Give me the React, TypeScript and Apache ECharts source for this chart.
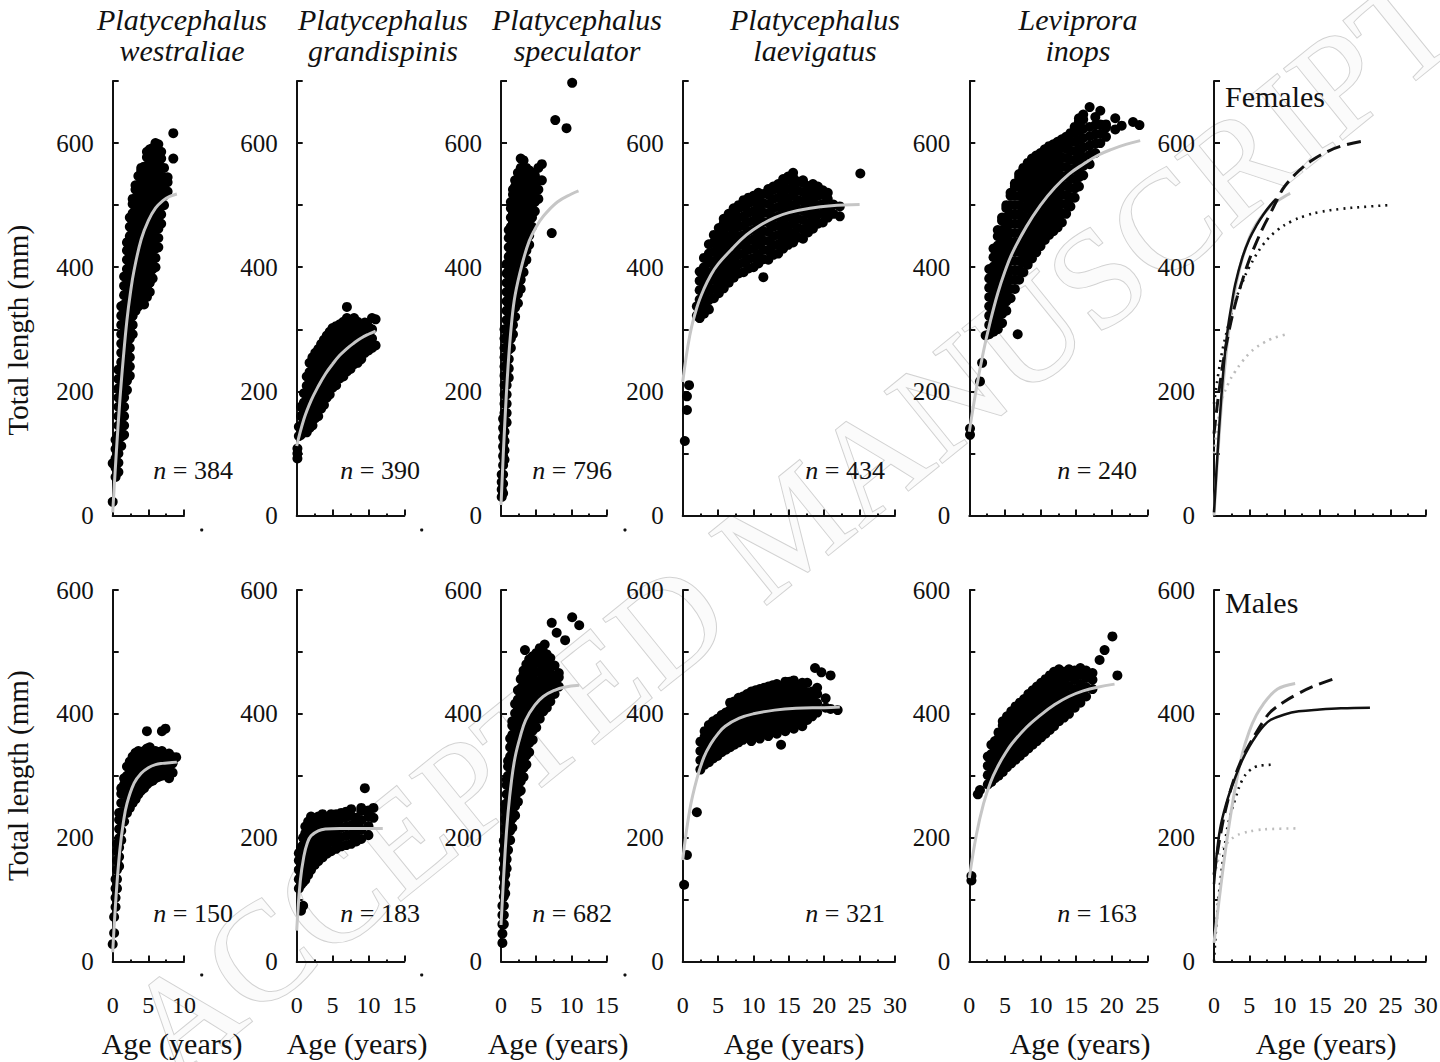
import React, { useEffect, useRef } from "react";
import * as echarts from "echarts";

const FONT = "'Liberation Serif', 'Times New Roman', Times, serif";
const INK = "#111111";
const CURVE_GRAY = "#c6c6c6";

// ---------- scatter rows: [age, ...lengths] ----------
const westraliaeF: number[][] = [
  [0.0, 22, 84],
  [0.4, 62, 77, 92, 107, 122],
  [0.8, 70, 85, 100, 115, 130, 145, 160, 175, 190, 205, 220, 235],
  [1.2, 112, 127, 142, 157, 172, 187, 202, 217, 232, 247, 262, 277, 292, 307, 322, 337],
  [1.6, 130, 145, 160, 175, 190, 205, 220, 235, 250, 265, 280, 295, 310, 325, 340, 355, 370, 385],
  [2.0, 202, 217, 232, 247, 262, 277, 292, 307, 322, 337, 352, 367, 382, 397, 412, 427, 440],
  [2.4, 225, 240, 255, 270, 285, 300, 315, 330, 345, 360, 375, 390, 405, 420, 435, 450, 465, 480],
  [2.8, 292, 307, 322, 337, 352, 367, 382, 397, 412, 427, 442, 457, 472, 487, 502, 510],
  [3.2, 330, 345, 360, 375, 390, 405, 420, 435, 450, 465, 480, 495, 510, 525, 532],
  [3.6, 337, 352, 367, 382, 397, 412, 427, 442, 457, 472, 487, 502, 517, 532, 547],
  [4.0, 345, 360, 375, 390, 405, 420, 435, 450, 465, 480, 495, 510, 525, 540, 555, 560],
  [4.4, 340, 355, 370, 385, 400, 415, 430, 445, 460, 475, 490, 505, 520, 535, 550, 562],
  [4.8, 352, 367, 382, 397, 412, 427, 442, 457, 472, 487, 502, 517, 532, 547, 562, 577, 586],
  [5.2, 360, 375, 390, 405, 420, 435, 450, 465, 480, 495, 510, 525, 540, 555, 570, 585, 590],
  [5.6, 382, 397, 412, 427, 442, 457, 472, 487, 502, 517, 532, 547, 562, 577, 592],
  [6.0, 400, 415, 430, 445, 460, 475, 490, 505, 520, 535, 550, 565, 580, 595, 600],
  [6.4, 432, 447, 462, 477, 492, 507, 522, 537, 552, 567, 582, 598],
  [6.8, 470, 485, 500, 515, 530, 545, 560, 575, 586],
  [7.2, 500, 515, 530, 545, 560],
  [7.7, 522, 537, 545],
  [8.5, 575, 616],
];
const grandispinisF: number[][] = [
  [0.1, 92, 100, 108],
  [0.3, 128, 143],
  [0.6, 130, 145, 160, 175],
  [1.0, 137, 152, 167, 182, 197],
  [1.4, 134, 149, 164, 179, 194, 209, 224],
  [1.8, 141, 156, 171, 186, 201, 216, 231, 246],
  [2.2, 145, 160, 175, 190, 205, 220, 235, 250, 255],
  [2.6, 157, 172, 187, 202, 217, 232, 247, 262],
  [3.0, 160, 175, 190, 205, 220, 235, 250, 265, 268],
  [3.4, 172, 187, 202, 217, 232, 247, 262, 276],
  [3.8, 178, 193, 208, 223, 238, 253, 268, 283],
  [4.2, 190, 205, 220, 235, 250, 265, 280, 290],
  [4.6, 195, 210, 225, 240, 255, 270, 285, 296],
  [5.0, 206, 221, 236, 251, 266, 281, 296, 302],
  [5.5, 210, 225, 240, 255, 270, 285, 300, 305],
  [6.0, 221, 236, 251, 266, 281, 296, 308],
  [6.5, 224, 239, 254, 269, 284, 299, 312],
  [7.0, 232, 247, 262, 277, 292, 307, 318, 336],
  [7.5, 236, 251, 266, 281, 296, 311],
  [8.0, 244, 259, 274, 289, 304, 318],
  [8.5, 246, 261, 276, 291, 306, 312],
  [9.0, 252, 264, 279, 294, 304],
  [9.5, 262, 277, 292, 311],
  [10.0, 266, 281, 296, 304],
  [10.5, 270, 285, 300, 318],
  [11.0, 274, 316],
];
const speculatorF: number[][] = [
  [0.1, 30, 42, 54, 66],
  [0.3, 36, 51, 66, 81, 96, 111, 126, 141, 156],
  [0.5, 90, 105, 120, 135, 150, 165, 180, 195, 210, 225, 240, 255, 270, 285, 300],
  [0.8, 150, 165, 180, 195, 210, 225, 240, 255, 270, 285, 300, 315, 330, 345, 360, 375, 390, 405],
  [1.1, 222, 237, 252, 267, 282, 297, 312, 327, 342, 357, 372, 387, 402, 417, 432, 447, 460],
  [1.4, 270, 285, 300, 315, 330, 345, 360, 375, 390, 405, 420, 435, 450, 465, 480, 495, 505],
  [1.7, 292, 307, 322, 337, 352, 367, 382, 397, 412, 427, 442, 457, 472, 487, 502, 517, 525],
  [2.0, 320, 335, 350, 365, 380, 395, 410, 425, 440, 455, 470, 485, 500, 515, 530, 540],
  [2.4, 342, 357, 372, 387, 402, 417, 432, 447, 462, 477, 492, 507, 522, 537, 552],
  [2.8, 365, 380, 395, 410, 425, 440, 455, 470, 485, 500, 515, 530, 545, 560, 575],
  [3.2, 392, 407, 422, 437, 452, 467, 482, 497, 512, 527, 542, 557, 572],
  [3.6, 412, 427, 442, 457, 472, 487, 502, 517, 532, 547, 560],
  [4.0, 436, 451, 466, 481, 496, 511, 526, 541, 556],
  [4.4, 465, 480, 495, 510, 525, 540, 552],
  [4.8, 490, 505, 520, 535, 548],
  [5.3, 510, 525, 540, 560],
  [5.8, 540, 566],
  [7.2, 455],
  [7.7, 637],
  [9.3, 624],
  [10.1, 697],
];
const laevigatusF: number[][] = [
  [0.3, 120],
  [0.6, 170, 192],
  [0.9, 210],
  [2.0, 322, 337],
  [2.4, 318, 333, 348, 363, 378, 393],
  [3.0, 325, 340, 355, 370, 385, 400, 415],
  [3.7, 332, 347, 362, 377, 392, 407, 422, 437],
  [4.4, 350, 365, 380, 395, 410, 425, 440, 452],
  [5.1, 358, 373, 388, 403, 418, 433, 448, 463],
  [5.8, 366, 381, 396, 411, 426, 441, 456, 471, 478],
  [6.5, 375, 390, 405, 420, 435, 450, 465, 480, 486],
  [7.2, 383, 398, 413, 428, 443, 458, 473, 488, 495],
  [7.9, 390, 405, 420, 435, 450, 465, 480, 495, 500],
  [8.6, 392, 407, 422, 437, 452, 467, 482, 497, 508],
  [9.3, 398, 413, 428, 443, 458, 473, 488, 503, 512],
  [10.0, 400, 415, 430, 445, 460, 475, 490, 505, 515],
  [10.7, 406, 421, 436, 451, 466, 481, 496, 511, 520],
  [11.4, 384, 413, 428, 443, 458, 473, 488, 503, 518],
  [12.1, 412, 427, 442, 457, 472, 487, 502, 517, 526],
  [12.8, 420, 435, 450, 465, 480, 495, 510, 525, 530],
  [13.5, 422, 437, 452, 467, 482, 497, 512, 527, 534],
  [14.2, 430, 445, 460, 475, 490, 505, 520, 535, 542],
  [14.9, 436, 451, 466, 481, 496, 511, 526, 541, 546],
  [15.6, 440, 455, 470, 485, 500, 515, 530, 545, 552],
  [16.3, 448, 463, 478, 493, 508, 523, 538],
  [17.0, 446, 461, 476, 491, 506, 521, 536, 540],
  [17.7, 456, 471, 486, 501, 516, 531],
  [18.4, 462, 477, 492, 507, 522, 534],
  [19.1, 470, 485, 500, 515, 530],
  [19.8, 472, 487, 502, 517, 524],
  [20.5, 480, 495, 510, 520],
  [21.3, 486, 501],
  [22.2, 482, 498],
  [25.1, 551],
];
const inopsF: number[][] = [
  [0.1, 130, 140],
  [1.5, 216],
  [1.8, 246],
  [2.3, 290],
  [2.8, 292, 307, 322, 337, 352, 367, 382, 397],
  [3.4, 296, 311, 326, 341, 356, 371, 386, 401, 416, 430],
  [4.0, 300, 315, 330, 345, 360, 375, 390, 405, 420, 435, 450, 460],
  [4.6, 310, 325, 340, 355, 370, 385, 400, 415, 430, 445, 460, 475, 480],
  [5.2, 330, 345, 360, 375, 390, 405, 420, 435, 450, 465, 480, 495, 500],
  [5.8, 350, 365, 380, 395, 410, 425, 440, 455, 470, 485, 500, 515, 520],
  [6.4, 365, 380, 395, 410, 425, 440, 455, 470, 485, 500, 515, 530, 535],
  [6.8, 292],
  [7.0, 380, 395, 410, 425, 440, 455, 470, 485, 500, 515, 530, 545, 550],
  [7.6, 392, 407, 422, 437, 452, 467, 482, 497, 512, 527, 542, 557, 560],
  [8.2, 404, 419, 434, 449, 464, 479, 494, 509, 524, 539, 554, 568],
  [8.8, 414, 429, 444, 459, 474, 489, 504, 519, 534, 549, 564, 575],
  [9.4, 424, 439, 454, 469, 484, 499, 514, 529, 544, 559, 574, 580],
  [10.0, 434, 449, 464, 479, 494, 509, 524, 539, 554, 569, 584],
  [10.6, 444, 459, 474, 489, 504, 519, 534, 549, 564, 579, 590],
  [11.2, 452, 467, 482, 497, 512, 527, 542, 557, 572, 587, 595],
  [11.8, 458, 473, 488, 503, 518, 533, 548, 563, 578, 593, 598],
  [12.4, 464, 479, 494, 509, 524, 539, 554, 569, 584, 599, 602],
  [13.0, 472, 487, 502, 517, 532, 547, 562, 577, 592, 606],
  [13.6, 486, 501, 516, 531, 546, 561, 576, 591, 606, 610],
  [14.2, 498, 513, 528, 543, 558, 573, 588, 603, 616],
  [14.8, 512, 527, 542, 557, 572, 587, 602, 617, 626],
  [15.4, 530, 545, 560, 575, 590, 605, 620, 635, 640],
  [16.0, 548, 563, 578, 593, 608, 623, 638, 646],
  [16.9, 566, 581, 596, 611, 626, 658],
  [17.7, 584, 599, 614, 629, 642],
  [18.4, 600, 615, 630, 652],
  [19.2, 610, 625, 630],
  [20.5, 622, 640],
  [21.4, 628],
  [23.0, 634],
  [23.9, 629],
];
const westraliaeM: number[][] = [
  [0.0, 28],
  [0.2, 46, 72],
  [0.4, 88, 103, 118, 133],
  [0.6, 118, 133, 148, 163, 178, 190],
  [0.9, 154, 169, 184, 199, 214, 229, 240],
  [1.2, 196, 211, 226, 241, 256, 271, 280],
  [1.6, 226, 241, 256, 271, 286, 296],
  [2.0, 240, 255, 270, 285, 300, 315],
  [2.4, 248, 263, 278, 293, 308, 323],
  [2.8, 256, 271, 286, 301, 316, 331],
  [3.2, 262, 277, 292, 307, 322, 337],
  [3.6, 270, 285, 300, 315, 330, 340],
  [4.0, 276, 291, 306, 321, 336],
  [4.4, 280, 295, 310, 325, 340],
  [4.8, 286, 301, 316, 331, 344, 372],
  [5.2, 290, 305, 320, 335, 346],
  [5.6, 292, 307, 322, 337],
  [6.0, 296, 311, 326, 340],
  [6.4, 298, 313, 328, 338],
  [6.9, 300, 315, 330, 340, 372],
  [7.4, 304, 319, 334, 376],
  [7.9, 296, 311, 326, 336],
  [8.4, 305, 320, 330],
  [8.9, 330],
];
const grandispinisM: number[][] = [
  [0.3, 118, 133, 148, 163, 175],
  [0.6, 82, 124, 139, 154, 169, 184],
  [0.9, 90, 128, 143, 158, 173, 188, 200],
  [1.2, 132, 147, 162, 177, 192, 207, 218],
  [1.6, 140, 155, 170, 185, 200, 215, 226],
  [2.0, 148, 163, 178, 193, 208, 223, 234],
  [2.5, 156, 171, 186, 201, 216, 231],
  [3.0, 162, 177, 192, 207, 222, 234],
  [3.6, 168, 183, 198, 213, 228, 238],
  [4.2, 174, 189, 204, 219, 232],
  [4.8, 178, 193, 208, 223, 238],
  [5.5, 182, 197, 212, 227, 238],
  [6.2, 186, 201, 216, 231, 240],
  [6.9, 188, 203, 218, 233, 242],
  [7.6, 190, 205, 220, 235, 246],
  [8.3, 194, 209, 224, 232],
  [9.0, 198, 213, 228, 243, 248],
  [9.5, 280],
  [10.0, 204, 219, 234, 244],
  [10.7, 232, 248],
];
const speculatorM: number[][] = [
  [0.2, 30, 45, 60, 75, 90],
  [0.4, 60, 75, 90, 105, 120, 135, 150, 165, 180, 195],
  [0.6, 110, 125, 140, 155, 170, 185, 200, 215, 230, 245, 254],
  [0.8, 150, 165, 180, 195, 210, 225, 240, 255, 270, 285, 294],
  [1.0, 180, 195, 210, 225, 240, 255, 270, 285, 300, 315, 324],
  [1.3, 196, 211, 226, 241, 256, 271, 286, 301, 316, 331, 346, 360],
  [1.6, 216, 231, 246, 261, 276, 291, 306, 321, 336, 351, 366, 381, 388],
  [2.0, 236, 251, 266, 281, 296, 311, 326, 341, 356, 371, 386, 401, 416],
  [2.4, 258, 273, 288, 303, 318, 333, 348, 363, 378, 393, 408, 423, 438],
  [2.8, 276, 291, 306, 321, 336, 351, 366, 381, 396, 411, 426, 441, 456],
  [3.2, 298, 313, 328, 343, 358, 373, 388, 403, 418, 433, 448, 463, 470],
  [3.6, 318, 333, 348, 363, 378, 393, 408, 423, 438, 453, 468, 480],
  [4.0, 338, 353, 368, 383, 398, 413, 428, 443, 458, 473, 488],
  [4.5, 358, 373, 388, 403, 418, 433, 448, 463, 478, 493],
  [5.0, 378, 393, 408, 423, 438, 453, 468, 483, 498],
  [5.5, 392, 407, 422, 437, 452, 467, 482, 497, 506],
  [6.0, 404, 419, 434, 449, 464, 479, 494, 500],
  [6.5, 410, 425, 440, 455, 470, 485, 496],
  [7.0, 420, 435, 450, 465, 480, 490],
  [7.6, 432, 447, 462, 478],
  [8.2, 444, 459, 466],
  [3.4, 503],
  [6.2, 512],
  [7.2, 547],
  [7.9, 531],
  [9.1, 519],
  [10.1, 556],
  [11.1, 543],
];
const laevigatusM: number[][] = [
  [0.2, 124],
  [0.6, 172],
  [2.0, 241],
  [2.5, 310, 325, 340, 355],
  [3.1, 318, 333, 348, 363, 372],
  [3.7, 322, 337, 352, 367, 382],
  [4.3, 328, 343, 358, 373, 388],
  [4.9, 332, 347, 362, 377, 392],
  [5.5, 338, 353, 368, 383, 398],
  [6.1, 342, 357, 372, 387, 402],
  [6.7, 346, 361, 376, 391, 406, 418],
  [7.3, 350, 365, 380, 395, 410, 420],
  [7.9, 354, 369, 384, 399, 414, 426],
  [8.5, 358, 373, 388, 403, 418, 428],
  [9.1, 362, 377, 392, 407, 422, 432],
  [9.7, 356, 371, 386, 401, 416, 431, 436],
  [10.3, 366, 381, 396, 411, 426, 438],
  [10.9, 360, 375, 390, 405, 420, 435, 440],
  [11.5, 370, 385, 400, 415, 430, 442],
  [12.1, 364, 379, 394, 409, 424, 439, 444],
  [12.7, 374, 389, 404, 419, 434, 446],
  [13.3, 368, 383, 398, 413, 428, 443, 448],
  [13.9, 350, 378, 393, 408, 423, 438],
  [14.5, 372, 387, 402, 417, 432, 447, 452],
  [15.1, 382, 397, 412, 427, 442, 452],
  [15.7, 376, 391, 406, 421, 436, 451, 454],
  [16.3, 386, 401, 416, 431, 446],
  [16.9, 380, 395, 410, 425, 440, 450],
  [17.6, 390, 405, 420, 435, 450],
  [18.3, 396, 411, 426, 436],
  [18.7, 474],
  [19.0, 402, 417, 432, 442],
  [19.6, 467],
  [20.2, 410, 425],
  [20.9, 408, 462],
  [21.9, 406],
];
const inopsM: number[][] = [
  [0.3, 131, 138],
  [1.2, 270],
  [1.5, 277],
  [2.6, 286, 301, 316, 331],
  [3.1, 290, 305, 320, 335, 350],
  [3.6, 296, 311, 326, 341, 356],
  [4.1, 300, 315, 330, 345, 360, 370],
  [4.7, 306, 321, 336, 351, 366, 381, 388],
  [5.3, 314, 329, 344, 359, 374, 389, 396],
  [5.9, 320, 335, 350, 365, 380, 395, 404],
  [6.5, 326, 341, 356, 371, 386, 401, 412],
  [7.1, 332, 347, 362, 377, 392, 407, 418],
  [7.7, 338, 353, 368, 383, 398, 413, 424],
  [8.3, 344, 359, 374, 389, 404, 419, 432],
  [8.9, 350, 365, 380, 395, 410, 425, 438],
  [9.5, 356, 371, 386, 401, 416, 431, 444],
  [10.1, 362, 377, 392, 407, 422, 437, 450],
  [10.7, 368, 383, 398, 413, 428, 443, 456],
  [11.3, 374, 389, 404, 419, 434, 449, 462],
  [11.9, 380, 395, 410, 425, 440, 455, 468],
  [12.6, 388, 403, 418, 433, 448, 463, 472],
  [13.3, 394, 409, 424, 439, 454, 468],
  [14.0, 400, 415, 430, 445, 460, 472],
  [14.8, 410, 425, 440, 455, 470],
  [15.6, 418, 433, 448, 463, 474],
  [16.4, 428, 443, 458, 470],
  [17.3, 440, 455, 466],
  [18.3, 487],
  [19.0, 503],
  [20.1, 525],
  [20.8, 462],
];

// ---------- growth curves: [age, length] ----------
const curveWestraliaeF = [[0, 5], [0.5, 100], [1, 185], [1.5, 255], [2, 315], [2.5, 360], [3, 395], [4, 445], [5, 475], [6, 495], [7, 507], [8, 514], [9, 518]];
const curveGrandispinisF = [[0, 112], [1, 155], [2, 185], [3, 208], [4, 228], [5, 244], [6, 258], [7, 269], [8, 278], [9, 286], [10, 292], [11, 297]];
const curveSpeculatorF = [[0, 17], [0.5, 140], [1, 240], [1.5, 310], [2, 355], [3, 405], [4, 442], [5, 465], [6, 482], [8, 505], [10, 518], [11, 523]];
const curveLaevigatusF = [[0, 215], [1, 290], [2, 335], [3, 365], [4, 388], [5, 405], [7, 430], [9, 452], [11, 468], [13, 480], [15, 488], [18, 495], [21, 499], [25, 501]];
const curveInopsF = [[0, 135], [1, 205], [2, 265], [3, 315], [4, 358], [5, 393], [6, 422], [8, 465], [10, 500], [12, 528], [14, 550], [16, 566], [18, 580], [20, 590], [22, 598], [24, 604]];
const curveWestraliaeM = [[0, 15], [0.5, 110], [1, 180], [1.5, 225], [2, 255], [3, 288], [4, 304], [5, 313], [6, 318], [7, 320], [8, 321], [9, 322]];
const curveGrandispinisM = [[0, 50], [0.5, 130], [1, 170], [1.5, 192], [2, 203], [3, 211], [4, 214], [6, 215], [9, 215], [12, 215]];
const curveSpeculatorM = [[0, 59], [0.6, 180], [1, 240], [1.5, 293], [2, 330], [2.7, 362], [3.5, 390], [4.8, 414], [6, 428], [7.6, 438], [9, 443], [11.1, 446]];
const curveLaevigatusM = [[0, 164], [1, 245], [2, 295], [3, 330], [4, 352], [5, 368], [6, 380], [8, 393], [10, 400], [13, 406], [16, 409], [20, 410], [22.2, 411]];
const curveInopsM = [[0, 135], [1, 205], [2, 255], [3, 290], [4, 315], [5, 335], [6, 352], [8, 378], [10, 398], [12, 415], [14, 428], [16, 437], [18, 443], [20.4, 448]];

// comparison panels (right column)
const cmpF_solidBlack = [[0, 5], [0.5, 100], [1, 185], [1.5, 255], [2, 305], [2.5, 340], [3, 372], [4, 415], [5, 445], [6, 467], [7, 485], [8, 500], [8.8, 510]];
const cmpF_solidGray = [[0, 0], [1, 170], [2, 290], [3, 365], [4, 413], [5, 447], [6, 470], [8, 498], [10, 514], [10.8, 519]];
const cmpF_dashBlack = [[0, 132], [1, 225], [2, 290], [3, 340], [4, 378], [5, 412], [6, 440], [7, 465], [8, 487], [9, 510], [10, 530], [12, 555], [14, 573], [16, 586], [18, 595], [21, 603]];
const cmpF_dotBlack = [[0, 180], [1, 255], [2, 305], [3, 345], [4, 375], [5, 400], [7, 437], [9, 460], [11, 474], [13, 483], [15, 489], [18, 494], [21, 497], [24.7, 500]];
const cmpF_dotGray = [[0, 100], [1, 180], [2, 212], [3, 232], [4, 248], [5, 261], [6, 271], [7, 278], [8, 284], [9, 288], [10.3, 292]];
const cmpM_solidBlack = [[0, 125], [0.5, 185], [1, 222], [2, 265], [3, 297], [4, 325], [5, 347], [6, 365], [7, 380], [8, 390], [10, 399], [12, 404], [15, 407], [18, 409], [22.1, 410]];
const cmpM_solidGray = [[0, 30], [1, 125], [2, 210], [3, 280], [4, 335], [5, 372], [6, 398], [7, 416], [8, 430], [9, 440], [10, 445], [11.5, 449]];
const cmpM_dashBlack = [[0, 140], [1, 210], [2, 262], [3, 300], [4, 328], [5, 350], [6, 370], [7, 388], [8, 403], [10, 420], [12, 433], [14, 444], [17.1, 457]];
const cmpM_dotBlack = [[0, 0], [0.5, 85], [1, 140], [1.5, 185], [2, 222], [3, 262], [4, 293], [5, 308], [6, 315], [7, 317], [8.6, 318]];
const cmpM_dotGray = [[0.3, 150], [0.5, 160], [1, 178], [2, 193], [3, 202], [4, 207], [6, 212], [8, 214], [12.2, 215]];

// ---------- text ----------
const titleLine1 = ["Platycephalus", "Platycephalus", "Platycephalus", "Platycephalus", "Leviprora"];
const titleLine2 = ["westraliae", "grandispinis", "speculator", "laevigatus", "inops"];
const nFemales = ["384", "390", "796", "434", "240"];
const nMales = ["150", "183", "682", "321", "163"];
const xMaxes = [10, 15, 15, 30, 25, 30];
const yMaxes = [700, 600];

// ---------- layout (pixels) ----------
const colLeft = [112.7, 296.7, 501, 682.7, 969.3, 1214];
const colWidth = [71.3, 107.6, 105.7, 212.3, 178, 211.7];
const rowTop = [81, 590];
const rowHeight = [434.5, 371.5];
const titleCenterX = [182, 383, 577, 815, 1078];
const nRightX = [233, 420, 612, 885, 1137];
const nCenterY = [470, 913];
const ageLabelX = [172, 357, 558, 794, 1080, 1326];

const toPairs = (rows: number[][]) => rows.flatMap((r) => r.slice(1).map((v) => [r[0], v]));

const scatterRows = [
  [westraliaeF, grandispinisF, speculatorF, laevigatusF, inopsF],
  [westraliaeM, grandispinisM, speculatorM, laevigatusM, inopsM],
];
const curves = [
  [curveWestraliaeF, curveGrandispinisF, curveSpeculatorF, curveLaevigatusF, curveInopsF],
  [curveWestraliaeM, curveGrandispinisM, curveSpeculatorM, curveLaevigatusM, curveInopsM],
];
const compareCurves = [
  [cmpF_dotGray, cmpF_dotBlack, cmpF_solidGray, cmpF_dashBlack, cmpF_solidBlack],
  [cmpM_dotGray, cmpM_dotBlack, cmpM_solidGray, cmpM_dashBlack, cmpM_solidBlack],
];
const compareStyles = [
  { color: "#bdbdbd", width: 2.6, type: [2, 5] as any },
  { color: INK, width: 2.6, type: [2, 5] as any },
  { color: CURVE_GRAY, width: 3, type: "solid" as any },
  { color: INK, width: 3, type: [14, 7] as any },
  { color: INK, width: 2.5, type: "solid" as any },
];

function buildOption() {
  const grid: any[] = [];
  const xAxis: any[] = [];
  const yAxis: any[] = [];
  const series: any[] = [];
  const graphic: any[] = [];

  for (let r = 0; r < 2; r++) {
    for (let c = 0; c < 6; c++) {
      const gi = r * 6 + c;
      grid.push({
        left: colLeft[c],
        top: rowTop[r],
        width: colWidth[c],
        height: rowHeight[r],
        containLabel: false,
        outerBoundsMode: "none",
      });
      xAxis.push({
        gridIndex: gi,
        type: "value",
        min: 0,
        max: xMaxes[c],
        interval: 5,
        offset: 14,
        axisLine: { show: true, lineStyle: { color: INK, width: 2 } },
        axisTick: { show: true, inside: true, length: 6, lineStyle: { color: INK, width: 2 } },
        minorTick: { show: true, splitNumber: 2, length: 2, lineStyle: { color: INK, width: 2 } },
        splitLine: { show: false },
        axisLabel: {
          show: r === 1,
          fontFamily: FONT,
          fontSize: 24,
          color: INK,
          margin: 17,
          showMinLabel: true,
          showMaxLabel: true,
        },
      });
      yAxis.push({
        gridIndex: gi,
        type: "value",
        min: 0,
        max: yMaxes[r],
        interval: 100,
        offset: 7,
        axisLine: { show: true, lineStyle: { color: INK, width: 2 } },
        axisTick: { show: true, inside: true, length: 6, lineStyle: { color: INK, width: 2 } },
        splitLine: { show: false },
        axisLabel: {
          fontFamily: FONT,
          fontSize: 25,
          color: INK,
          margin: 12,
          showMinLabel: true,
          showMaxLabel: true,
          formatter: (v: number) => (v % 200 === 0 ? String(v) : ""),
        },
      });

      if (c < 5) {
        series.push({
          type: "scatter",
          xAxisIndex: gi,
          yAxisIndex: gi,
          data: toPairs(scatterRows[r][c]),
          symbol: "circle",
          symbolSize: 10,
          itemStyle: { color: "#000000", opacity: 1 },
          z: 2,
        });
        series.push({
          type: "line",
          xAxisIndex: gi,
          yAxisIndex: gi,
          data: curves[r][c],
          smooth: 0.4,
          showSymbol: false,
          symbol: "none",
          lineStyle: { color: CURVE_GRAY, width: 3 },
          z: 3,
        });
      } else {
        compareCurves[r].forEach((d, k) => {
          series.push({
            type: "line",
            xAxisIndex: gi,
            yAxisIndex: gi,
            data: d,
            smooth: 0.4,
            showSymbol: false,
            symbol: "none",
            lineStyle: compareStyles[k],
            z: 3 + k,
          });
        });
      }
    }
  }

  // watermark (outlined letters)
  graphic.push({
    type: "text",
    x: 790,
    y: 525,
    rotation: 0.68,
    silent: true,
    z: -10,
    style: {
      text: "ACCEPTED MANUSCRIPT",
      fontFamily: FONT,
      fontSize: 140,
      fill: "#fbfbfb",
      stroke: "#d2d2d2",
      lineWidth: 2,
      align: "center",
      verticalAlign: "middle",
      textAlign: "center",
      textVerticalAlign: "middle",
    },
  });

  // titles
  for (let c = 0; c < 5; c++) {
    [titleLine1[c], titleLine2[c]].forEach((t, k) => {
      graphic.push({
        type: "text",
        x: titleCenterX[c],
        y: k === 0 ? 19 : 50,
        style: {
          text: t,
          fontFamily: FONT,
          fontStyle: "italic",
          fontSize: 30,
          fill: INK,
          align: "center",
          verticalAlign: "middle",
          textAlign: "center",
          textVerticalAlign: "middle",
        },
      });
    });
  }

  // n labels
  for (let r = 0; r < 2; r++) {
    const ns = r === 0 ? nFemales : nMales;
    for (let c = 0; c < 5; c++) {
      graphic.push({
        type: "text",
        x: nRightX[c],
        y: nCenterY[r],
        style: {
          text: "{i|n} = " + ns[c],
          fontFamily: FONT,
          fontSize: 26,
          fill: INK,
          align: "right",
          verticalAlign: "middle",
          textAlign: "right",
          textVerticalAlign: "middle",
          rich: { i: { fontStyle: "italic", fontFamily: FONT, fontSize: 26, fill: INK, color: INK } },
        },
      });
    }
  }

  // y titles
  [rowTop[0] + rowHeight[0] / 2 + 32, rowTop[1] + rowHeight[1] / 2].forEach((cy) => {
    graphic.push({
      type: "text",
      x: 18,
      y: cy,
      rotation: Math.PI / 2,
      style: {
        text: "Total length (mm)",
        fontFamily: FONT,
        fontSize: 29,
        fill: INK,
        align: "center",
        verticalAlign: "middle",
        textAlign: "center",
        textVerticalAlign: "middle",
      },
    });
  });

  // x titles
  for (let c = 0; c < 6; c++) {
    graphic.push({
      type: "text",
      x: ageLabelX[c],
      y: 1043,
      style: {
        text: "Age (years)",
        fontFamily: FONT,
        fontSize: 30,
        fill: INK,
        align: "center",
        verticalAlign: "middle",
        textAlign: "center",
        textVerticalAlign: "middle",
      },
    });
  }

  // panel labels
  [["Females", 96], ["Males", 602]].forEach(([t, y]) => {
    graphic.push({
      type: "text",
      x: 1225,
      y: y as number,
      style: {
        text: t as string,
        fontFamily: FONT,
        fontSize: 30,
        fill: INK,
        align: "left",
        verticalAlign: "middle",
        textAlign: "left",
        textVerticalAlign: "middle",
      },
    });
  });

  // stray dots after the short x axes
  const dotX = [201.7, 421.7, 625];
  [530, 975].forEach((yy) => {
    dotX.forEach((xx) => {
      graphic.push({ type: "circle", shape: { cx: xx, cy: yy, r: 1.6 }, style: { fill: INK } });
    });
  });

  return {
    animation: false,
    backgroundColor: "#ffffff",
    grid,
    xAxis,
    yAxis,
    series,
    graphic: { elements: graphic },
  };
}

export default function App() {
  const ref = useRef<HTMLDivElement | null>(null);
  useEffect(() => {
    if (!ref.current) return;
    const chart = echarts.init(ref.current, null, { renderer: "svg" });
    chart.setOption(buildOption() as any);
    return () => chart.dispose();
  }, []);
  return (
    <div
      ref={ref}
      style={{ position: "absolute", left: 0, top: 0, width: 1440, height: 1062, background: "#fff" }}
    />
  );
}
